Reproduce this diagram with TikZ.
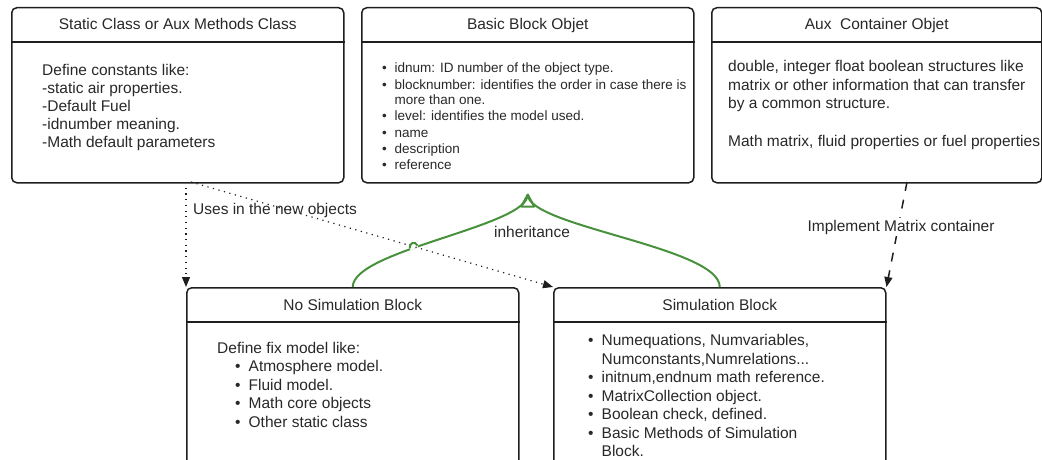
\documentclass[tikz,border=0pt]{standalone}
\usepackage{fontspec}
\setmainfont{Liberation Sans}
\usetikzlibrary{arrows.meta,calc}
\definecolor{inhgreen}{RGB}{72,145,60}
\definecolor{ink}{RGB}{30,30,30}
\definecolor{txt}{RGB}{40,40,40}
% bullet followed by a fixed gap
\newcommand\itemdot[1][13.5pt]{\makebox[#1][l]{\textbullet}}
\newcommand\threedots{.\kern0pt.\kern0pt.}

\begin{document}
\begin{tikzpicture}[x=1pt,y=-1pt,
  box/.style={draw=ink, line width=1.5pt, rounded corners=5pt, anchor=north west, inner sep=0pt},
  frame/.style={draw=ink, line width=1.5pt},
  title/.style={font=\fontsize{15.5}{18}\selectfont, text=txt, anchor=base, inner sep=0pt},
  body/.style={font=\fontsize{15.5}{18}\selectfont, text=txt, anchor=base west, inner sep=0pt},
  small/.style={font=\fontsize{13.5}{16}\selectfont, text=txt, anchor=base west, inner sep=0pt},
  lbl/.style={font=\fontsize{15.5}{18}\selectfont, text=txt, inner sep=0pt},
  inh/.style={draw=inhgreen, line width=2pt},
  uses/.style={draw=ink, line width=1.2pt, dash pattern=on 1.2pt off 4.5pt},
  impl/.style={draw=ink, line width=1.5pt, dash pattern=on 9pt off 9pt},
  tipfill/.style={-{Triangle[length=10pt,width=8pt]}}
]
\useasboundingbox (0,0) rectangle (1042,460);
\clip (0,0) rectangle (1042,460);

% class boxes
\node[box, minimum width=332pt, minimum height=175pt] (stat)  at (11,7)   {};
\node[box, minimum width=332pt, minimum height=175pt] (basic) at (361,7)  {};
\node[box, minimum width=330pt, minimum height=175pt] (aux)   at (711,7)  {};
\node[box, minimum width=332pt, minimum height=200pt] (nosim) at (186,287) {};
\node[box, minimum width=332pt, minimum height=200pt] (sim)   at (553,287) {};

% header separators
\foreach \b in {stat,basic,aux,nosim,sim}
  \draw[frame] ($(\b.north west)+(0,35)$) -- ($(\b.north east)+(0,35)$);

% titles
\node[title] (stat-t)  at ($(stat.north)+(0,23)$)  {Static Class or Aux Methods Class};
\node[title] (basic-t) at ($(basic.north)+(0,23)$) {Basic Block Objet};
\node[title] (aux-t)   at ($(aux.north)+(0,23)$)   {Aux\ \ Container Objet};
\node[title] (nosim-t) at ($(nosim.north)+(0,23)$) {No Simulation Block};
\node[title] (sim-t)   at ($(sim.north)+(0,23)$)   {Simulation Block};

% static class body
\foreach \t [count=\i] in {{Define constants like:},{-static air properties.},{-Default Fuel},
    {-idnumber meaning.},{-Math default parameters}}
  \node[body] (stat-l\i) at (42,{75.5+17.9*(\i-1)}) {\t};

% basic block body
\foreach \t [count=\i] in {{\itemdot[12.5pt]idnum: ID number of the object type.},
    {\itemdot[12.5pt]blocknumber: identifies the order in case there is},
    {\hspace{12.5pt}more than one.},
    {\itemdot[12.5pt]level: identifies the model used.},
    {\itemdot[12.5pt]name},{\itemdot[12.5pt]description},{\itemdot[12.5pt]reference}}
  \node[small] (basic-l\i) at (382,{73+16*(\i-1)}) {\t};

% aux container body
\node[body] (aux-l1) at (728,72)   {double, integer float boolean structures like};
\node[body] (aux-l2) at (728,90.5) {matrix or other information that can transfer};
\node[body] (aux-l3) at (728,109)  {by a common structure.};
\node[body] (aux-l4) at (728,146)  {Math matrix, fluid properties or fuel properties};

% no simulation body
\node[body] (nosim-l0) at (217,353.5) {Define fix model like:};
\foreach \t [count=\i] in {{Atmosphere model.},{Fluid model.},{Math core objects},{Other static class}}
  \node[body] (nosim-l\i) at (235,{353.5+18.4*\i}) {\itemdot\t};

% simulation body
\foreach \t [count=\i] in {{\itemdot Numequations, Numvariables,},
    {\hspace{13.5pt}Numconstants,Numrelations\threedots},
    {\itemdot initnum,endnum math reference.},
    {\itemdot MatrixCollection object.},
    {\itemdot Boolean check, defined.},
    {\itemdot Basic Methods of Simulation},
    {\hspace{13.5pt}Block.}}
  \node[body] (sim-l\i) at (588,{345.5+18.5*(\i-1)}) {\t};

% connector end points
\coordinate (u1) at (186,182);
\coordinate (u2) at (191,182);
\coordinate (m1) at (907,182);
\coordinate (tip) at ($(basic.south)+(0,11)$);
\coordinate (hop) at (413.6,246.9);

% inheritance
\draw[inh] (nosim.north) .. controls +(0,-37) and +(0,32) .. (tip);
\draw[inh] (sim.north) .. controls +(0,-40) and +(0,32) .. (tip);
\draw[inh, line join=round] (tip) -- ++(-6.5,12) -- ++(13,0) -- cycle;
\draw[white, line width=4pt] ($(hop)+(-3.8,1.4)$) -- ($(hop)+(3.8,-1.4)$);

% usage
\draw[uses, tipfill] (u1) -- (nosim.north west);
\draw[uses, tipfill] (u2) -- (sim.north west);

% line jump over the usage connector
\draw[inh] ($(hop)+(-3.8,1.4)$) .. controls +(-1.8,-5) and +(-1.8,-5) .. ($(hop)+(3.8,-1.4)$);

% implementation
\draw[impl, tipfill] (m1) -- (sim.north east);

% labels
\node[lbl, anchor=west] (uses-l) at (193,210) {Uses in the new objects};
\node[lbl] (inh-l) at (532,232) {inheritance};
\node[lbl, fill=white, inner sep=1.5pt] (impl-l) at (901,227) {Implement Matrix container};
\end{tikzpicture}
\end{document}
